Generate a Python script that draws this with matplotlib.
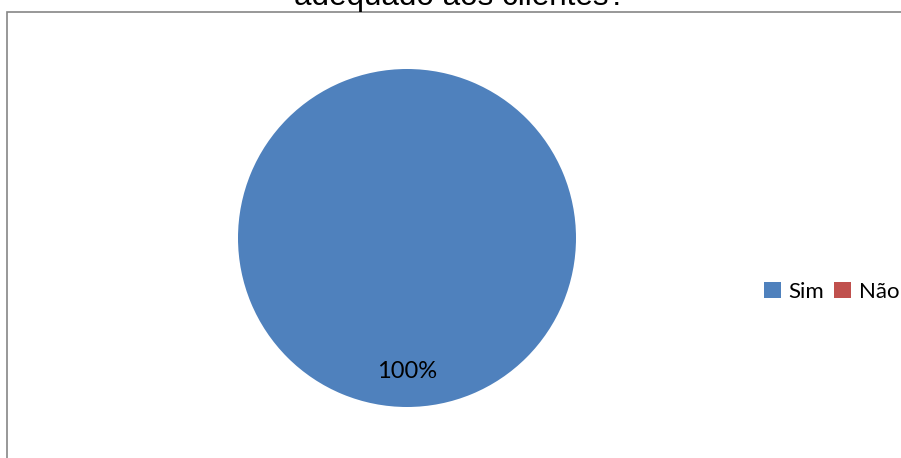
import matplotlib.pyplot as plt
from matplotlib.patches import Patch, Rectangle

# Dados do gráfico
categorias = ["Sim", "Não"]
valores = [100, 0]
cores = ["#4F81BD", "#C0504D"]
titulo = "adequado aos clientes?"

W, H = 901, 458
fig = plt.figure(figsize=(W / 100, H / 100), dpi=100)

# Moldura da área do gráfico (cortada na imagem original)
fig.patches.append(Rectangle((7 / W, -0.1), 1.2, 1 - 12 / H + 0.1,
                             transform=fig.transFigure, fill=False,
                             edgecolor="#868686", linewidth=1.2))

# Título (apenas a parte de baixo aparece)
fig.text(460 / W, 1 - 5 / H, titulo, ha="center", va="baseline",
         fontsize=22.6, family="Liberation Sans", color="black")

# Pizza
cx, cy, r = 407, 238, 169
ax = fig.add_axes([(cx - r) / W, (H - cy - r) / H, 2 * r / W, 2 * r / H])


def rotulo(p):
    return f"{p:.0f}%" if p > 0 else ""


ax.pie(valores, colors=cores, startangle=90, counterclock=False,
       autopct=rotulo, pctdistance=0.787, radius=1,
       textprops=dict(fontsize=17, family="Lato", color="black"),
       wedgeprops=dict(linewidth=0))
ax.set_xlim(-1, 1)
ax.set_ylim(-1, 1)
ax.set_aspect("equal")
ax.axis("off")

# Legenda
alcas = [Patch(facecolor=c, edgecolor="none") for c in cores]
fig.legend(alcas, categorias, loc="center left",
           bbox_to_anchor=(764 / W, 1 - 292 / H), ncol=2, frameon=False,
           prop=dict(family="Lato", size=16), handlelength=0.75,
           handleheight=0.75, handletextpad=0.35, columnspacing=0.45,
           borderpad=0, borderaxespad=0)

fig.savefig("out.png", dpi=100)
